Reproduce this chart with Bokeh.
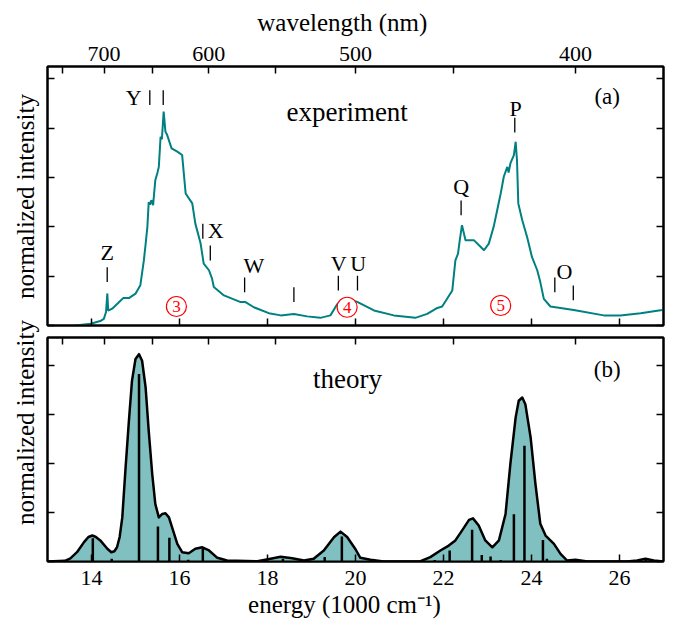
import math
from bokeh.plotting import figure
from bokeh.models import Range1d, LinearAxis, FixedTicker, Label
from bokeh.layouts import column, row
from bokeh.embed import file_html
from bokeh.resources import INLINE
from bokeh.core.properties import value

FONT = "Liberation Serif"
TEAL = "#008080"
FILL = "#80c0c0"

# ---------------- data ----------------
energy_ticks = [14, 16, 18, 20, 22, 24, 26]
energy_labels = ["14", "16", "18", "20", "22", "24", "26"]
wavelength_ticks = [750, 700, 650, 600, 550, 500, 450, 400]
wavelength_labels = ["", "700", "", "600", "", "500", "", "400"]
intensity_ticks = [0, 0.2, 0.4, 0.6, 0.8, 1.0]

# (a) experiment
exp_energy = [13.64, 13.98, 14.20, 14.28, 14.33, 14.36, 14.38, 14.47, 14.60, 14.72,
              14.85, 15.00, 15.11, 15.19, 15.23, 15.27, 15.30, 15.33, 15.36, 15.40,
              15.45, 15.50, 15.53, 15.57, 15.60, 15.64, 15.68, 15.72, 15.82, 15.95,
              16.06, 16.14, 16.29, 16.36, 16.48, 16.55, 16.67, 16.74, 16.78, 17.01,
              17.39, 17.50, 17.69, 18.03, 18.30, 18.60, 18.90, 19.20, 19.43, 19.58,
              19.70, 19.90, 20.05, 20.42, 20.87, 21.36, 21.63, 21.86, 21.97, 22.20,
              22.27, 22.33, 22.37, 22.42, 22.50, 22.69, 22.92, 23.03, 23.14, 23.22,
              23.30, 23.37, 23.45, 23.48, 23.52, 23.60, 23.64, 23.67, 23.70, 23.79,
              23.90, 24.01, 24.13, 24.20, 24.28, 24.43, 24.96, 25.64, 26.02, 26.48,
              26.97, 27.00]
exp_intensity = [0.000, 0.007, 0.018, 0.027, 0.055, 0.130, 0.060, 0.068, 0.090, 0.111,
                 0.111, 0.129, 0.163, 0.264, 0.330, 0.400, 0.500, 0.490, 0.508, 0.488,
                 0.589, 0.620, 0.643, 0.765, 0.755, 0.867, 0.786, 0.772, 0.718, 0.705,
                 0.691, 0.535, 0.495, 0.413, 0.332, 0.251, 0.224, 0.190, 0.156, 0.122,
                 0.095, 0.095, 0.074, 0.050, 0.041, 0.047, 0.037, 0.031, 0.041, 0.085,
                 0.105, 0.105, 0.095, 0.061, 0.041, 0.031, 0.047, 0.071, 0.077, 0.142,
                 0.264, 0.291, 0.346, 0.407, 0.346, 0.346, 0.305, 0.332, 0.400, 0.467,
                 0.535, 0.603, 0.643, 0.620, 0.657, 0.691, 0.745, 0.671, 0.495, 0.427,
                 0.359, 0.278, 0.224, 0.176, 0.108, 0.077, 0.063, 0.041, 0.041, 0.050,
                 0.063, 0.064]

# assignment markers in (a)
mark_energy = [14.357, 15.325, 15.63, 16.53, 16.70, 17.48, 18.60, 19.61, 20.045,
               22.40, 23.62, 24.53, 24.95]
mark_base = [0.176, 0.894, 0.894, 0.352, 0.264, 0.135, 0.095, 0.142, 0.142,
             0.447, 0.782, 0.135, 0.102]
mark_names = ["Z", "Y", "X", "W", "V", "U", "Q", "P", "O"]
name_energy = [14.357, 14.96, 16.82, 17.69, 19.62, 20.06, 22.40, 23.64, 24.75]
name_level = [0.294, 0.924, 0.386, 0.244, 0.251, 0.251, 0.565, 0.880, 0.217]
band_names = ["3", "4", "5"]
band_energy = [15.93, 19.81, 23.30]
band_level = [0.077, 0.074, 0.081]

# (b) theory envelope
th_energy = [13.00, 13.40, 13.52, 13.67, 13.83, 13.93, 14.02, 14.10, 14.20, 14.36,
             14.45, 14.52, 14.58, 14.64, 14.70, 14.77, 14.85, 14.92, 15.00, 15.08,
             15.15, 15.23, 15.30, 15.38, 15.45, 15.53, 15.61, 15.68, 15.76, 15.83,
             15.95, 16.06, 16.21, 16.36, 16.52, 16.67, 16.86, 17.08, 17.77, 18.07,
             18.30, 18.56, 18.83, 19.05, 19.28, 19.51, 19.66, 19.81, 20.00, 20.11,
             20.34, 20.64, 21.48, 21.70, 21.93, 22.12, 22.27, 22.42, 22.58, 22.67,
             22.80, 22.95, 23.11, 23.26, 23.41, 23.52, 23.64, 23.71, 23.79, 23.86,
             23.98, 24.09, 24.20, 24.32, 24.51, 24.66, 24.81, 25.00, 25.27, 26.17,
             26.40, 26.59, 26.78, 27.00]
th_intensity = [0.000, 0.003, 0.013, 0.038, 0.079, 0.100, 0.106, 0.100, 0.086, 0.052,
                0.038, 0.042, 0.058, 0.100, 0.180, 0.371, 0.574, 0.737, 0.826, 0.846,
                0.819, 0.710, 0.534, 0.357, 0.235, 0.180, 0.194, 0.197, 0.180, 0.140,
                0.072, 0.038, 0.034, 0.052, 0.058, 0.045, 0.015, 0.004, 0.001, 0.011,
                0.019, 0.013, 0.004, 0.011, 0.045, 0.099, 0.122, 0.100, 0.050, 0.015,
                0.007, 0.000, 0.001, 0.018, 0.045, 0.065, 0.086, 0.126, 0.170, 0.176,
                0.147, 0.086, 0.058, 0.086, 0.194, 0.398, 0.588, 0.656, 0.669, 0.642,
                0.506, 0.316, 0.154, 0.106, 0.072, 0.031, 0.004, 0.007, 0.000, 0.000,
                0.004, 0.011, 0.004, 0.000]

# (b) stick spectrum
stick_energy = [14.03, 14.46, 15.08, 15.51, 15.77, 16.20, 16.53, 18.35, 19.30, 19.69,
                21.80, 22.14, 22.65, 22.87, 23.07, 23.30, 23.60, 23.84, 24.26, 24.35, 26.60]
stick_intensity = [0.095, 0.011, 0.765, 0.143, 0.097, 0.007, 0.052, 0.011, 0.018, 0.102,
                   0.006, 0.045, 0.130, 0.027, 0.020, 0.006, 0.193, 0.472, 0.088, 0.011, 0.007]

# ---------------- helpers ----------------
x_range = Range1d(13, 27)
wl_positions = [1e4 / w for w in wavelength_ticks]
PLOT_W = 620      # panel figure width (2 px borders each side)
LEFT_W = 45       # strip holding the rotated y labels
TOP_H, PA_H, PB_H, BOT_H = 64, 267, 232, 59


def style_axis(ax):
    ax.major_tick_in = 7
    ax.major_tick_out = 0
    ax.minor_tick_in = 0
    ax.minor_tick_out = 0
    ax.minor_tick_line_color = None
    ax.major_tick_line_color = "black"
    ax.major_tick_line_width = 1.5
    ax.axis_line_color = "black"
    ax.axis_line_width = 2
    ax.major_label_text_color = None
    ax.major_label_text_font_size = "0px"
    ax.major_label_standoff = 0
    ax.axis_label_standoff = 0


def bare(width, height, xr, yr, left=0, right=0):
    p = figure(width=width, height=height, x_range=xr, y_range=yr,
               output_backend="svg", toolbar_location=None,
               x_axis_location=None, y_axis_location=None,
               min_border_left=left, min_border_right=right,
               min_border_top=0, min_border_bottom=0)
    p.xgrid.visible = False
    p.ygrid.visible = False
    p.outline_line_color = None
    p.background_fill_color = "white"
    p.border_fill_color = "white"
    return p


def put_label(p, x, y, text, size, color="black", angle=0.0):
    p.add_layout(Label(x=x, y=y, text=text, text_font=FONT, text_font_size=size,
                       text_align="center", text_baseline="middle", text_color=color,
                       angle=angle))


def put_text(p, xs, ys, texts, size, color="black"):
    p.text(x=xs, y=ys, text=texts, text_font=value(FONT), text_font_size=size,
           text_align="center", text_baseline="middle", text_color=color)


def make_panel(height, top, bottom, ymax):
    p = figure(width=PLOT_W, height=height, x_range=x_range, y_range=Range1d(0, ymax),
               output_backend="svg", toolbar_location=None,
               x_axis_location=None, y_axis_location=None,
               min_border_left=2, min_border_right=2,
               min_border_top=top, min_border_bottom=bottom)
    p.xgrid.visible = False
    p.ygrid.visible = False
    p.outline_line_color = "black"
    p.outline_line_width = 2
    p.background_fill_color = "white"
    p.border_fill_color = "white"
    for side, ticks in (("left", intensity_ticks), ("right", intensity_ticks),
                        ("above", wl_positions), ("below", energy_ticks)):
        ax = LinearAxis(ticker=FixedTicker(ticks=ticks))
        style_axis(ax)
        p.add_layout(ax, side)
    return p


# ---------------- top strip: wavelength axis text ----------------
top = bare(PLOT_W, TOP_H, x_range, Range1d(0, TOP_H), 2, 2)
for pos, lab in zip(wl_positions, wavelength_labels):
    if lab:
        put_label(top, pos, 11, lab, "22px")
put_label(top, 19.70, 42, "wavelength (nm)", "25px")

# ---------------- panel (a) ----------------
pa = make_panel(PA_H, 2, 6, 1.05)
pa.line(exp_energy, exp_intensity, line_color=TEAL, line_width=2)
pa.segment(x0=mark_energy, y0=mark_base, x1=mark_energy,
           y1=[b + 0.06 for b in mark_base], line_color="black", line_width=1.3)
put_text(pa, name_energy, name_level, mark_names, "22px")
pa.scatter(x=band_energy, y=band_level, size=20, marker="circle",
           fill_color="white", line_color="red", line_width=1.2)
put_text(pa, band_energy, band_level, band_names, "17px", color="red")
put_label(pa, 19.81, 0.866, "experiment", "27px")
put_label(pa, 25.72, 0.928, "(a)", "23px")

# ---------------- panel (b) ----------------
pb = make_panel(PB_H, 6, 2, 0.914)
pb.varea(x=th_energy, y1=0, y2=th_intensity, fill_color=FILL)
pb.segment(x0=stick_energy, y0=[0] * len(stick_energy), x1=stick_energy, y1=stick_intensity,
           line_color="black", line_width=2.5)
pb.line(th_energy, th_intensity, line_color="black", line_width=2.5, line_join="round")
put_label(pb, 19.82, 0.745, "theory", "27px")
put_label(pb, 25.72, 0.785, "(b)", "23px")

# ---------------- bottom strip: energy axis text ----------------
bot = bare(PLOT_W, BOT_H, x_range, Range1d(0, BOT_H), 2, 2)
for pos, lab in zip(energy_ticks, energy_labels):
    put_label(bot, pos, 45, lab, "22px")
put_label(bot, 19.75, 18, "energy (1000 cm\u207b\u00b9)", "25px")

# ---------------- left strip: y axis titles ----------------
left_h = PA_H + PB_H
left = bare(LEFT_W, left_h, Range1d(0, LEFT_W), Range1d(0, left_h))
put_label(left, 25, 367, "normalized intensity", "25px", angle=math.pi / 2)
put_label(left, 25, 141, "normalized intensity", "25px", angle=math.pi / 2)

corner_t = bare(LEFT_W, TOP_H, Range1d(0, 1), Range1d(0, 1))
corner_b = bare(LEFT_W, BOT_H, Range1d(0, 1), Range1d(0, 1))

layout = column(
    row(corner_t, top, spacing=0),
    row(left, column(pa, pb, spacing=0), spacing=0),
    row(corner_b, bot, spacing=0),
    spacing=0,
)
open("out.html", "w").write(file_html(layout, INLINE))
